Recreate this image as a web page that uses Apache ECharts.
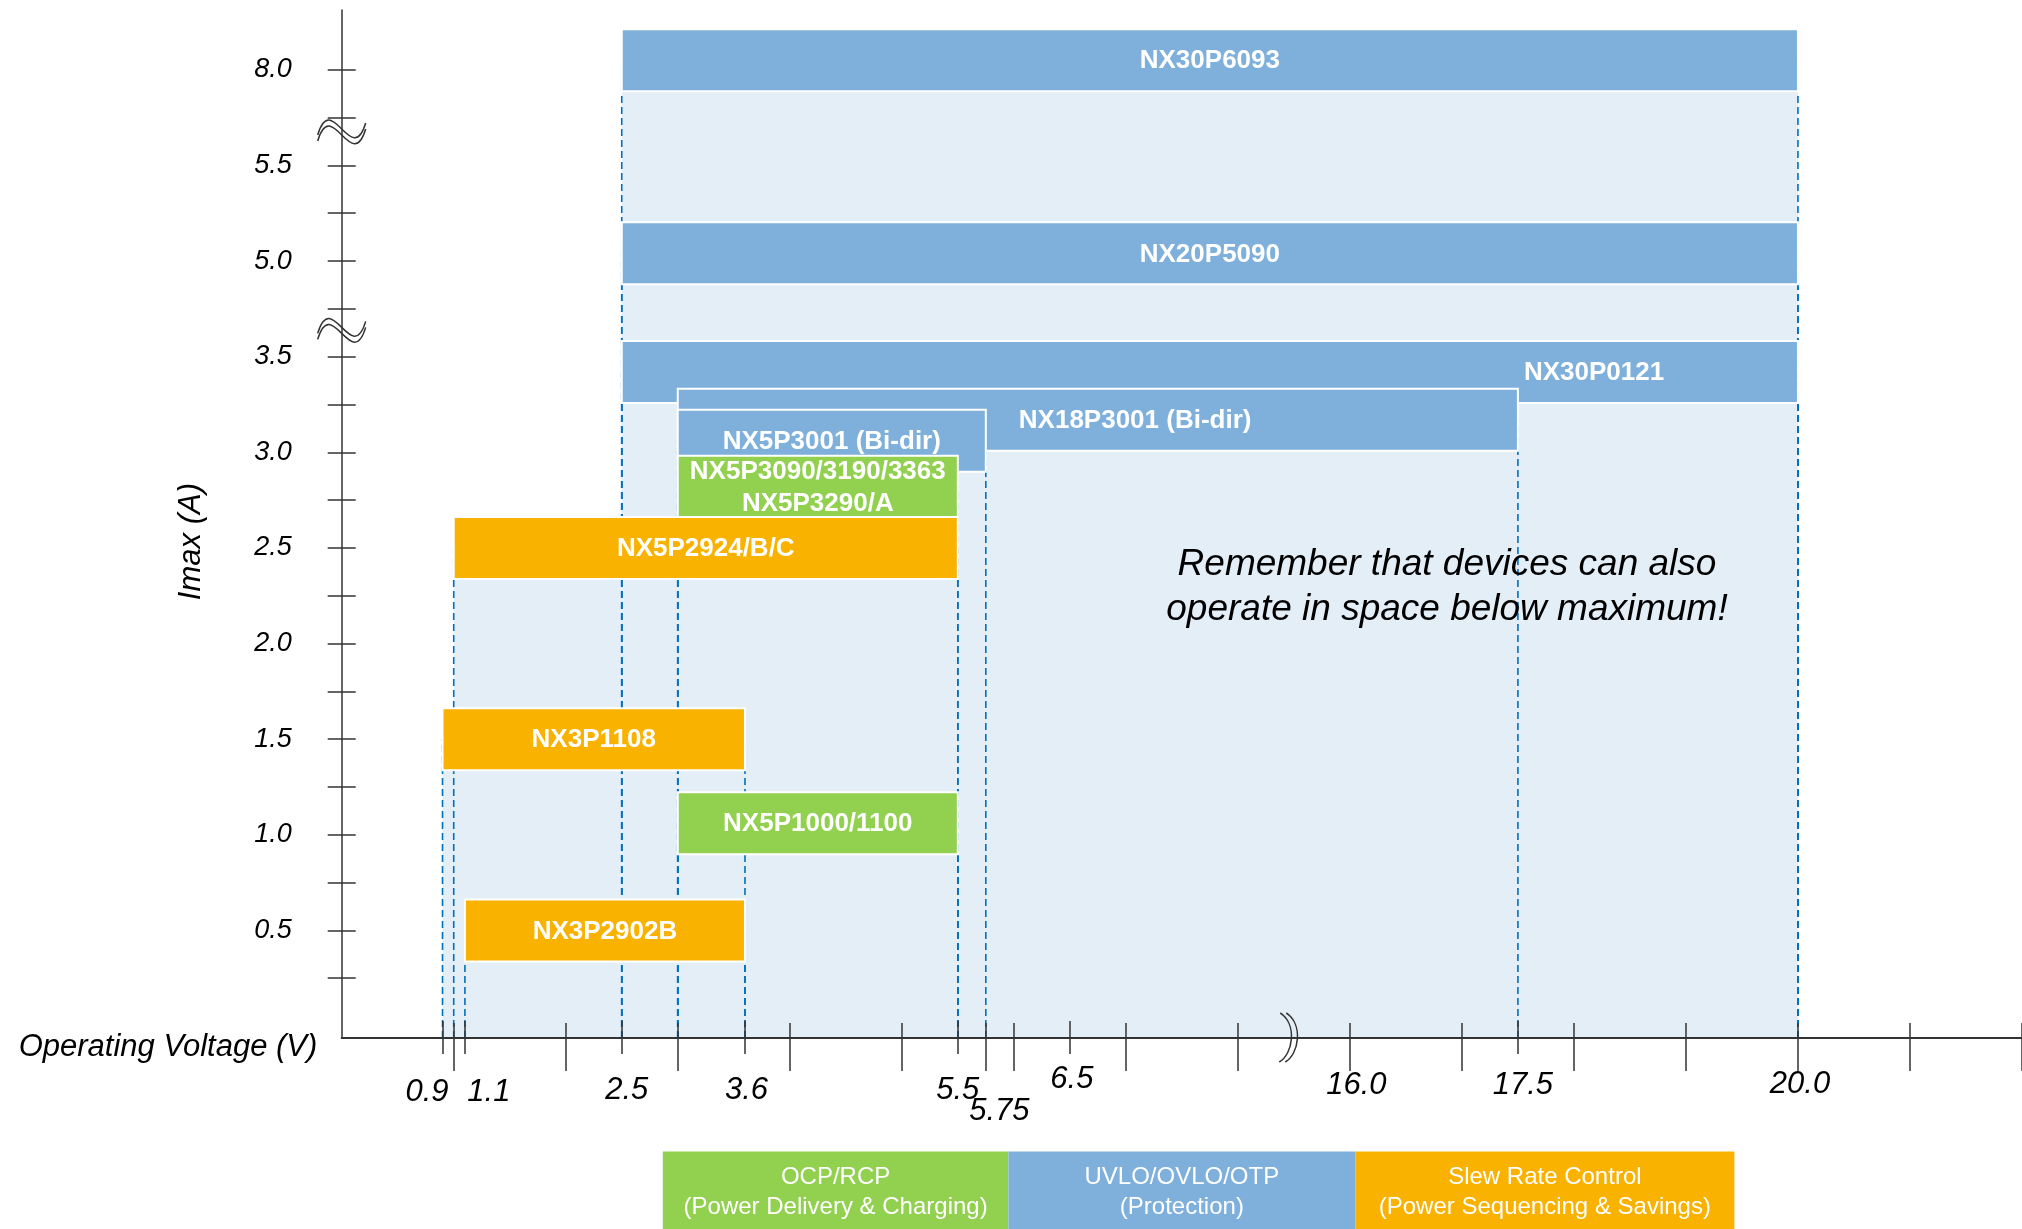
<!DOCTYPE html>
<html>
<head>
<meta charset="utf-8">
<script src="https://cdn.jsdelivr.net/npm/echarts@6/dist/echarts.min.js"></script>
<style>
  html, body { margin: 0; padding: 0; background: #fff; }
  #main { width: 2022px; height: 1229px; }
</style>
</head>
<body>
<div id="main"></div>
<script>
// ---- data ----
const DEVICES = ['NX30P6093', 'NX20P5090', 'NX30P0121', 'NX18P3001 (Bi-dir)', 'NX5P3001 (Bi-dir)',
  'NX5P3090/3190/3363\nNX5P3290/A', 'NX5P2924/B/C', 'NX3P1108', 'NX5P1000/1100', 'NX3P2902B'];
const V_MIN = [2.5, 2.5, 2.5, 3.0, 3.0, 3.0, 1.0, 0.9, 3.0, 1.1];
const V_MAX = [20, 20, 20, 17.5, 5.75, 5.5, 5.5, 3.6, 5.5, 3.6];
const I_MAX = [8.05, 5.04, 3.42, 3.17, 3.06, 2.82, 2.5, 1.5, 1.06, 0.5];
const FEATURE = ['uvlo', 'uvlo', 'uvlo', 'uvlo', 'uvlo', 'ocp', 'slew', 'slew', 'ocp', 'slew'];

const X_MAJOR_VOLTS = [1, 2, 3, 4, 5, 5.75, 6, 7, 8, 16, 17, 18, 19, 20, 21, 22];
const X_MINOR_VOLTS = [0.9, 1.1, 2.5, 3.6, 5.5, 6.5, 17.5];
const X_LABEL_VOLTS = [0.9, 1.1, 2.5, 3.6, 5.5, 5.75, 6.5, 16, 17.5, 20];
const X_LABEL_TEXT = ['0.9', '1.1', '2.5', '3.6', '5.5', '5.75', '6.5', '16.0', '17.5', '20.0'];

const Y_TICK_AMPS = [0.25, 0.5, 0.75, 1, 1.25, 1.5, 1.75, 2, 2.25, 2.5, 2.75, 3, 3.25, 3.5, 4.75, 5, 5.25, 5.5, 7.75, 8];
const Y_LABEL_AMPS = [0.5, 1.0, 1.5, 2.0, 2.5, 3.0, 3.5, 5.0, 5.5, 8.0];
const Y_LABEL_TEXT = ['0.5', '1.0', '1.5', '2.0', '2.5', '3.0', '3.5', '5.0', '5.5', '8.0'];

const LEGEND_KEYS = ['ocp', 'uvlo', 'slew'];
const LEGEND_TITLES = ['OCP/RCP', 'UVLO/OVLO/OTP', 'Slew Rate Control'];
const LEGEND_NOTES = ['(Power Delivery & Charging)', '(Protection)', '(Power Sequencing & Savings)'];

// ---- broken axes: map real values onto the drawn scale ----
function voltToPos(v) { return v <= 8 ? v : v - 7; }           // 8..16 V collapsed
function ampToP(a) {                                              // 0.25 A per step, two breaks
  if (a <= 4.2) return a / 0.25;
  if (a <= 6.5) return 15 + (a - 4.75) / 0.25;
  return 19 + (a - 7.75) / 0.25;
}

const FONT = '"Liberation Sans", Arial, sans-serif';
const COLORS = { ocp: '#92D050', uvlo: '#7EB0DB', slew: '#F9B200' };
const AXIS_COLOR = '#333';
const BAR_H = 62;
const LABEL_AFTER = { 2: [17.5, 6], 3: [5.75, 33] };   // labels that start after an overlapping bar

const barData = DEVICES.map(function (d, i) {
  return [voltToPos(V_MIN[i]), voltToPos(V_MAX[i]), ampToP(I_MAX[i]), i];
});

// per-label nudges of the x tick labels [top, right, bottom, left]
const X_LABEL_PAD = [[37, 31, 0, 0], [37, 0, 0, 48], [34, 0, 0, 10], [34, 0, 0, 3], [34, 0, 0, 0],
  [76, 0, 0, 27], [11, 0, 0, 4], [24, 0, 0, 13], [24, 0, 0, 10], [22, 0, 0, 4]];
const xRich = {};
X_LABEL_TEXT.forEach(function (t, k) {
  xRich['l' + k] = { fontSize: 31, fontStyle: 'italic', fontFamily: FONT, color: '#000',
    lineHeight: 31, padding: X_LABEL_PAD[k] };
});
function xLabelFormatter(val) {
  for (var k = 0; k < X_LABEL_VOLTS.length; k++) {
    if (Math.abs(voltToPos(X_LABEL_VOLTS[k]) - val) < 1e-6) return '{l' + k + '|' + X_LABEL_TEXT[k] + '}';
  }
  return '';
}
function xLabels(values) {
  return {
    show: true, customValues: values.map(voltToPos), margin: 20, rich: xRich,
    hideOverlap: false, showMinLabel: true, showMaxLabel: true, formatter: xLabelFormatter
  };
}

const tickLine = { color: AXIS_COLOR, width: 1.5 };
const xMajor = X_MAJOR_VOLTS.map(voltToPos);
const xMinor = X_MINOR_VOLTS.map(voltToPos);
const yTicks = Y_TICK_AMPS.map(ampToP);

function xAxisBase(extra) {
  return Object.assign({
    type: 'value', min: 0, max: 15, position: 'bottom', z: 10,
    axisLine: { show: false, onZero: false },
    splitLine: { show: false },
    axisLabel: { show: false }
  }, extra);
}
function yAxisBase(extra) {
  return Object.assign({
    type: 'value', min: -0.25, max: 21.25, position: 'left', z: 10,
    axisLine: { show: false, onZero: false },
    splitLine: { show: false },
    axisLabel: { show: false }
  }, extra);
}

var myChart = echarts.init(document.getElementById('main'));

var legendGraphics = [];
var legendEdges = [662.8, 1008.4, 1355.3, 1734.4];
LEGEND_KEYS.forEach(function (key, i) {
  legendGraphics.push({
    type: 'rect', z: 20,
    shape: { x: legendEdges[i], y: 1151.5, width: legendEdges[i + 1] - legendEdges[i], height: 80 },
    style: { fill: COLORS[key] }
  });
  legendGraphics.push({
    type: 'text', z: 21,
    x: (legendEdges[i] + legendEdges[i + 1]) / 2, y: 1192,
    style: { text: LEGEND_TITLES[i] + '\n' + LEGEND_NOTES[i], fill: '#fff', font: '24px ' + FONT,
      align: 'center', verticalAlign: 'middle', lineHeight: 30 }
  });
});

var option = {
  backgroundColor: '#fff',
  animation: false,
  grid: { left: 341.7, right: 0, top: 10, bottom: 191, outerBoundsMode: 'none' },
  xAxis: [
    xAxisBase({
      axisLine: { show: true, onZero: false, lineStyle: { color: AXIS_COLOR, width: 2 } },
      axisTick: { show: true, customValues: xMajor, length: 33, lineStyle: tickLine },
      axisLabel: xLabels(X_LABEL_VOLTS.slice(1))
    }),
    xAxisBase({ axisTick: { show: true, inside: true, customValues: xMajor, length: 15, lineStyle: tickLine } }),
    // the crowded 0.9 label lives on its own axis so it is not hidden by the 1.1 label
    xAxisBase({
      axisTick: { show: true, customValues: xMinor, length: 16, lineStyle: tickLine },
      axisLabel: xLabels(X_LABEL_VOLTS.slice(0, 1))
    }),
    xAxisBase({ axisTick: { show: true, inside: true, customValues: xMinor, length: 17, lineStyle: tickLine } })
  ],
  yAxis: [
    yAxisBase({
      axisLine: { show: true, onZero: false, lineStyle: { color: AXIS_COLOR, width: 1.5 } },
      axisTick: { show: true, customValues: yTicks, length: 14, lineStyle: tickLine },
      axisLabel: {
        show: true, customValues: Y_LABEL_AMPS.map(ampToP), margin: 50,
        showMinLabel: true, showMaxLabel: true,
        color: '#000', fontSize: 27, fontStyle: 'italic', fontFamily: FONT,
        formatter: function (val) {
          for (var k = 0; k < Y_LABEL_AMPS.length; k++) {
            if (Math.abs(ampToP(Y_LABEL_AMPS[k]) - val) < 1e-6) return Y_LABEL_TEXT[k];
          }
          return '';
        }
      }
    }),
    yAxisBase({ axisTick: { show: true, inside: true, customValues: yTicks, length: 14, lineStyle: tickLine } })
  ],
  series: [
    {
      // operating space below each device's maximum
      type: 'custom', silent: true,
      encode: { x: [0, 1], y: 2 },
      renderItem: function (params, api) {
        var a = api.coord([api.value(0), -0.25]);
        var b = api.coord([api.value(1), api.value(2)]);
        return { type: 'rect', shape: { x: a[0], y: b[1], width: b[0] - a[0], height: a[1] - b[1] - 1 },
          style: { fill: '#E4EEF7' } };
      },
      data: barData
    },
    {
      // dashed voltage limits
      type: 'custom', silent: true,
      encode: { x: [0, 1], y: 2 },
      renderItem: function (params, api) {
        var kids = [];
        [api.value(0), api.value(1)].forEach(function (x) {
          var a = api.coord([x, -0.25]);
          var b = api.coord([x, api.value(2)]);
          kids.push({ type: 'line', shape: { x1: a[0], y1: a[1], x2: b[0], y2: b[1] },
            style: { stroke: '#0070C0', lineWidth: 1.6, lineDash: [7, 4], fill: 'none' } });
        });
        return { type: 'group', children: kids };
      },
      data: barData
    },
    {
      // device bars
      type: 'custom', silent: true,
      encode: { x: [0, 1], y: 2 },
      renderItem: function (params, api) {
        var i = api.value(3);
        var a = api.coord([api.value(0), api.value(2)]);
        var b = api.coord([api.value(1), api.value(2)]);
        var tx = (a[0] + b[0]) / 2, align = 'center';
        if (LABEL_AFTER[i]) {
          tx = api.coord([voltToPos(LABEL_AFTER[i][0]), 0])[0] + LABEL_AFTER[i][1];
          align = 'left';
        }
        return {
          type: 'group',
          children: [
            { type: 'rect', shape: { x: a[0], y: a[1] - BAR_H / 2, width: b[0] - a[0], height: BAR_H },
              style: { fill: COLORS[FEATURE[i]], stroke: '#fff', lineWidth: 2 } },
            { type: 'text', x: tx, y: a[1] + 1,
              style: { text: DEVICES[i], fill: '#fff', font: 'bold 26px ' + FONT,
                align: align, verticalAlign: 'middle', lineHeight: 32 } }
          ]
        };
      },
      data: barData
    },
    {
      // axis break marks
      type: 'custom', silent: true, z: 12,
      renderItem: function (params, api) {
        var c = api.coord([api.value(0), api.value(1)]);
        var cx = c[0], cy = c[1], kids = [];
        var st = { stroke: AXIS_COLOR, lineWidth: 1.5, fill: 'none' };
        if (api.value(2) === 1) {
          [-3, 3].forEach(function (d) {
            kids.push({ type: 'bezierCurve', style: st,
              shape: { x1: cx - 24, y1: cy + d + 6, cpx1: cx - 10, cpy1: cy + d - 40,
                cpx2: cx + 10, cpy2: cy + d + 40, x2: cx + 24, y2: cy + d - 6 } });
          });
        } else {
          [-3, 3].forEach(function (d) {
            kids.push({ type: 'bezierCurve', style: st,
              shape: { x1: cx + d - 5, y1: cy - 25, cpx1: cx + d + 12, cpy1: cy - 14,
                cpx2: cx + d + 8, cpy2: cy + 16, x2: cx + d - 6, y2: cy + 24 } });
          });
        }
        return { type: 'group', children: kids };
      },
      data: [[8.45, -0.25, 0], [0, 14.55, 1], [0, 18.7, 1]]
    }
  ],
  graphic: [
    { type: 'text', x: 168, y: 1047,
      style: { text: 'Operating Voltage (V)', font: 'italic 31px ' + FONT, fill: '#000',
        align: 'center', verticalAlign: 'middle' } },
    { type: 'text', x: 191, y: 541.6, rotation: Math.PI / 2,
      style: { text: 'Imax (A)', font: 'italic 31px ' + FONT, fill: '#000',
        align: 'center', verticalAlign: 'middle' } },
    { type: 'text', x: 1447, y: 587.5, z: 20,
      style: { text: 'Remember that devices can also\noperate in space below maximum!',
        font: 'italic 37px ' + FONT, fill: '#000', align: 'center', verticalAlign: 'middle', lineHeight: 45 } }
  ].concat(legendGraphics)
};

option && myChart.setOption(option);
</script>
</body>
</html>
